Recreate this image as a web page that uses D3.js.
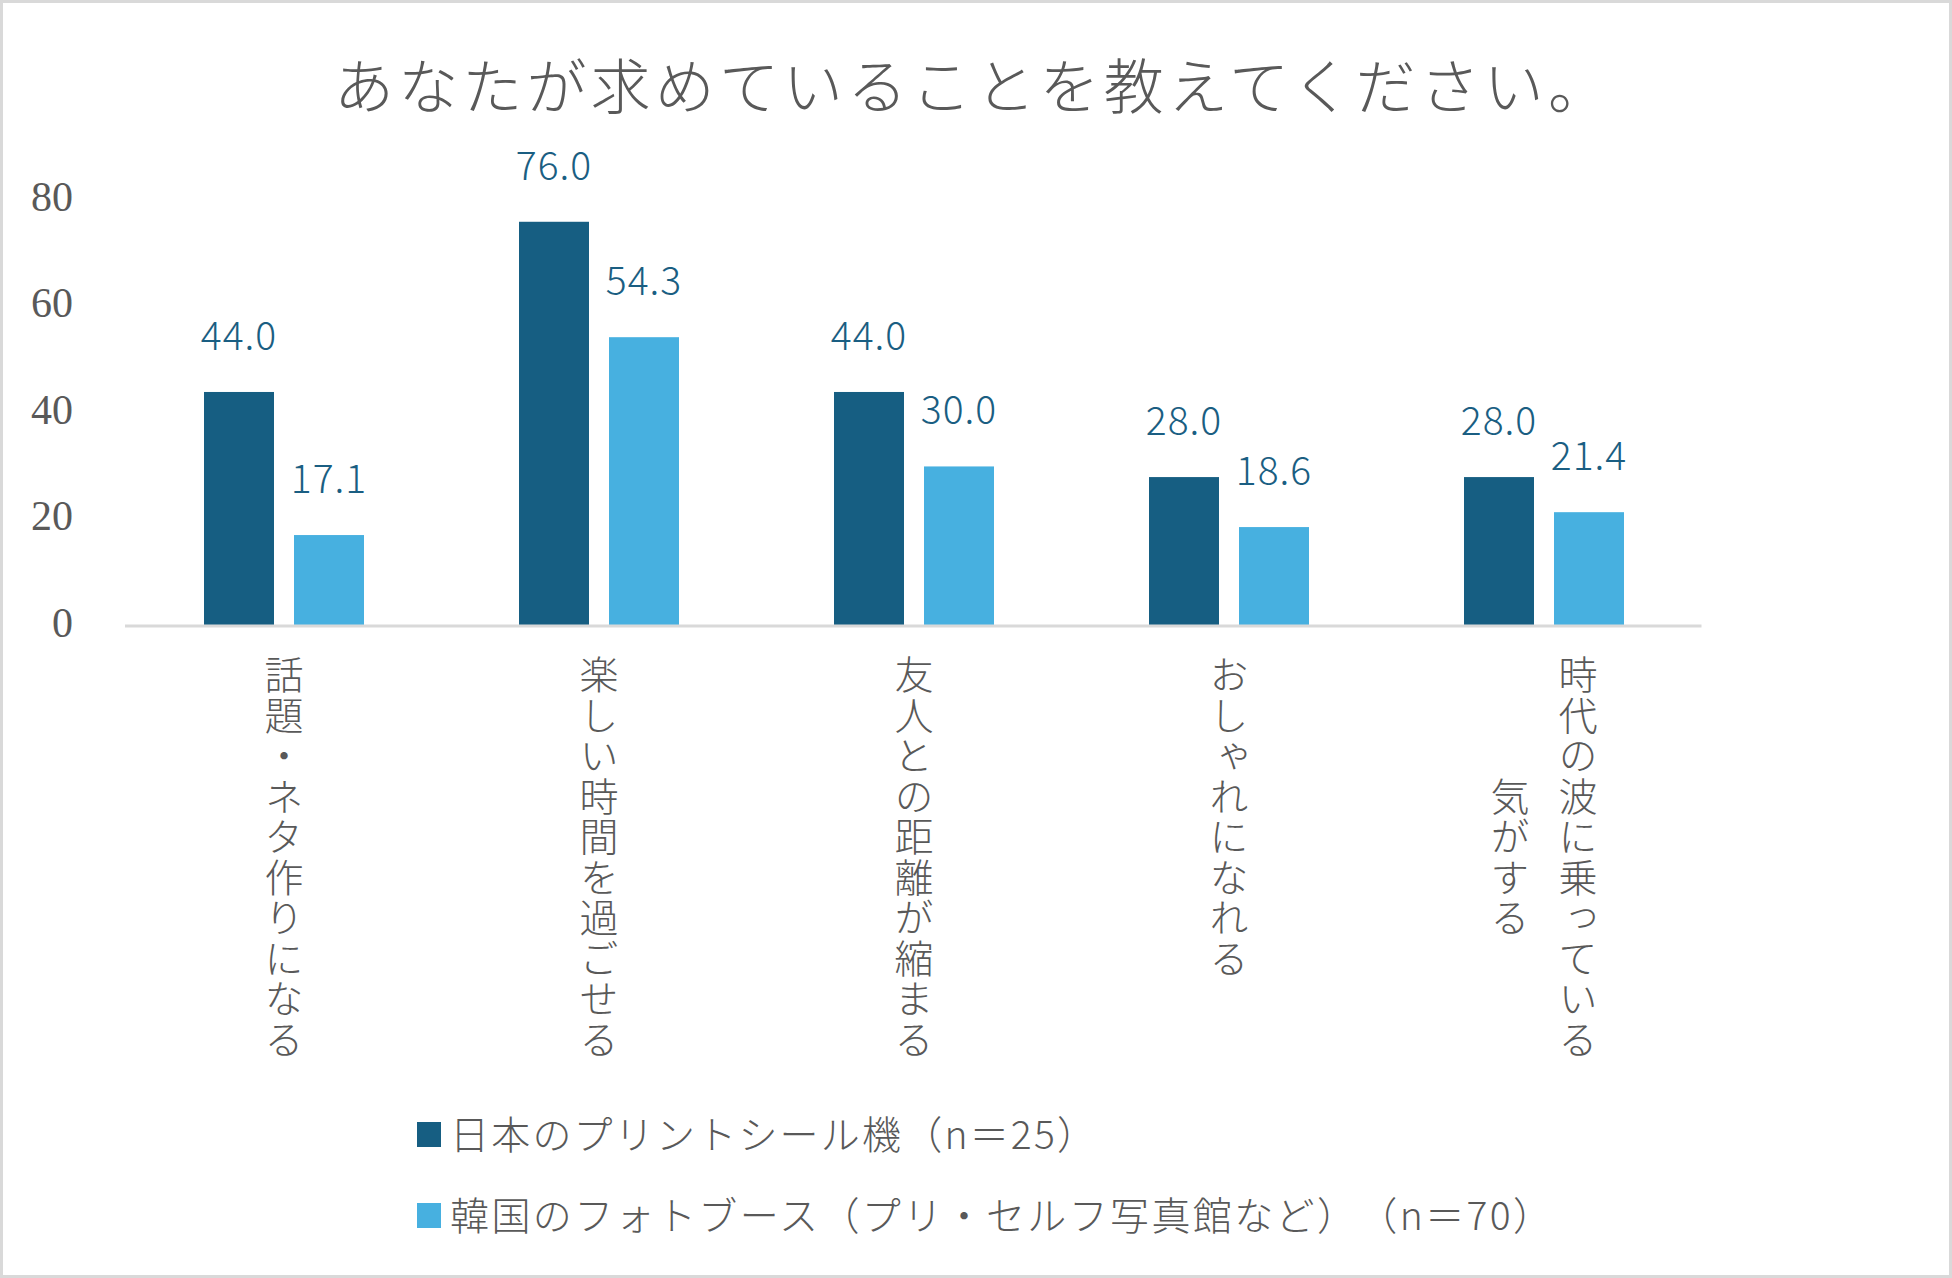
<!DOCTYPE html>
<html>
<head>
<meta charset="utf-8">
<script src="https://cdn.jsdelivr.net/npm/d3@7"></script>
<style>
  html, body { margin: 0; padding: 0; background: #fff; }
  svg { display: block; }
  text { text-spacing-trim: space-all; }
</style>
</head>
<body>
<svg id="chart" width="1952" height="1278"></svg>
<script>
// ---- data ----
const title = "あなたが求めていることを教えてください。";
const categories = ["話題・ネタ作りになる", "楽しい時間を過ごせる", "友人との距離が縮まる", "おしゃれになれる", "時代の波に乗っている\n気がする"];
const seriesNames = ["日本のプリントシール機（n＝25）", "韓国のフォトブース（プリ・セルフ写真館など）（n＝70）"];
const japanValues = [44.0, 76.0, 44.0, 28.0, 28.0];
const koreaValues = [17.1, 54.3, 30.0, 18.6, 21.4];
const yTicks = [0, 20, 40, 60, 80];

// ---- style ----
const W = 1952, H = 1278;
const colors = ["#165e82", "#47b0e0"];
const textGray = "#595959";
const jpFont = "'Noto Sans CJK JP', 'Noto Sans', sans-serif";

const svg = d3.select("#chart");

svg.append("rect")
  .attr("x", 1.5).attr("y", 1.5)
  .attr("width", W - 3).attr("height", H - 3)
  .attr("fill", "#fff").attr("stroke", "#d9d9d9").attr("stroke-width", 3);

// title
svg.append("text")
  .attr("x", 334).attr("y", 109)
  .attr("textLength", 1274).attr("lengthAdjust", "spacing")
  .attr("font-family", jpFont).attr("font-weight", 300)
  .attr("font-size", 60).attr("fill", textGray)
  .text(title);

// scales
const x0 = d3.scaleBand().domain(categories).range([126.5, 1701.5])
  .paddingInner(155 / 315).paddingOuter(155 / 630);
const x1 = d3.scaleBand().domain([0, 1]).range([0, x0.bandwidth()])
  .paddingInner(20 / 90).paddingOuter(0);
const y = d3.scaleLinear().domain([0, 80]).range([626, 200.5]);

const rows = categories.map((c, i) => ({ cat: c, vals: [japanValues[i], koreaValues[i]] }));

// bars
const g = svg.append("g");
const groups = g.selectAll("g.grp").data(rows).join("g")
  .attr("class", "grp")
  .attr("transform", d => `translate(${x0(d.cat)},0)`);

groups.selectAll("rect").data(d => d.vals.map((v, s) => ({ v, s }))).join("rect")
  .attr("x", d => x1(d.s))
  .attr("width", x1.bandwidth())
  .attr("y", d => y(d.v))
  .attr("height", d => y(0) - y(d.v))
  .attr("fill", d => colors[d.s]);

groups.selectAll("text.val").data(d => d.vals.map((v, s) => ({ v, s }))).join("text")
  .attr("class", "val")
  .attr("x", d => x1(d.s) + x1.bandwidth() / 2)
  .attr("y", d => y(d.v) - 42)
  .attr("text-anchor", "middle")
  .attr("font-family", jpFont)
  .attr("font-weight", 300)
  .attr("font-size", 39)
  .attr("letter-spacing", 1)
  .attr("fill", "#1a5e82")
  .text(d => d.v.toFixed(1));

// y axis labels (no line)
const yAxis = d3.axisLeft(y).tickValues(yTicks).tickSize(0).tickPadding(0).tickFormat(d3.format("d"));
const yg = svg.append("g").attr("transform", "translate(73,0)").call(yAxis);
yg.select(".domain").remove();
yg.selectAll("text")
  .attr("font-family", "'Liberation Serif', 'Times New Roman', serif")
  .attr("font-size", 42)
  .attr("fill", textGray)
  .attr("dy", null)
  .attr("y", 10);

// baseline
svg.append("line")
  .attr("x1", 125).attr("x2", 1701.5)
  .attr("y1", y(0)).attr("y2", y(0))
  .attr("stroke", "#d9d9d9").attr("stroke-width", 3);

// vertical category labels
const charStep = 40.5;
const colGap = 68;
const labelTop = 655;
rows.forEach(d => {
  const lines = d.cat.split("\n");
  const maxLen = d3.max(lines, l => [...l].length);
  const cx = x0(d.cat) + x0.bandwidth() / 2;
  lines.forEach((line, li) => {
    const colX = cx + ((lines.length - 1) / 2 - li) * colGap;
    const offset = (maxLen - [...line].length) / 2 * charStep;
    svg.append("text")
      .attr("x", colX)
      .attr("y", labelTop + offset)
      .attr("font-family", jpFont)
      .attr("font-weight", 300)
      .attr("font-size", 39)
      .attr("letter-spacing", charStep - 39)
      .attr("fill", textGray)
      .style("writing-mode", "vertical-rl")
      .style("text-orientation", "mixed")
      .text(line);
  });
});

// legend
const legendY = [1122, 1203];
const legendLen = [646, 1102];
seriesNames.forEach((name, i) => {
  svg.append("rect")
    .attr("x", 417).attr("y", legendY[i])
    .attr("width", 24).attr("height", 25)
    .attr("fill", colors[i]);
  svg.append("text")
    .attr("x", 450).attr("y", legendY[i] + 12.5 + 14)
    .attr("textLength", legendLen[i]).attr("lengthAdjust", "spacing")
    .attr("font-family", jpFont)
    .attr("font-weight", 300)
    .attr("font-size", 39)
    .attr("fill", textGray)
    .text(name);
});
</script>
</body>
</html>
